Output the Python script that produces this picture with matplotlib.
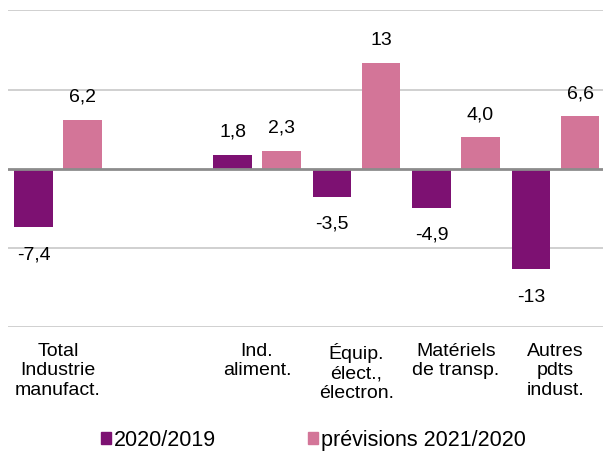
import matplotlib
matplotlib.use("Agg")
import matplotlib.pyplot as plt
from matplotlib.patches import Patch
import numpy as np

plt.rcParams['font.family'] = ['Liberation Sans', 'DejaVu Sans']

# data
categories = ["Total\nIndustrie\nmanufact.", "", "Ind.\naliment.",
              "Équip.\nélect.,\nélectron.", "Matériels\nde transp.",
              "Autres\npdts\nindust."]
v_2020 = [-7.4, np.nan, 1.8, -3.5, -4.9, -12.7]
v_prev = [6.2, np.nan, 2.3, 13.4, 4.0, 6.6]
series_names = ["2020/2019", "prévisions 2021/2020"]

c_purple = "#7D1172"
c_pink = "#D37598"


def fmt(v):
    if abs(v) >= 10:
        s = "%.0f" % v
    else:
        s = "%.1f" % v
    return s.replace(".", ",")


fig = plt.figure(figsize=(6.03, 4.55), dpi=100)
ax = fig.add_axes([8.3 / 603, 1 - 327.3 / 455, 597 / 603, 317 / 455])

x = np.arange(len(categories))
w = 0.386
off = 0.246
ax.bar(x - off, v_2020, w, color=c_purple, zorder=3)
ax.bar(x + off, v_prev, w, color=c_pink, zorder=3)

for xs, vals in ((x - off, v_2020), (x + off, v_prev)):
    for xi, v in zip(xs, vals):
        if np.isnan(v):
            continue
        dy = 16 if v > 0 else -20
        ax.annotate(fmt(v), (xi, v), xytext=(0, dy), textcoords="offset points",
                    ha="center", va="center", fontsize=14, color="black")

ax.set_xlim(-0.5, len(categories) - 0.5)
ax.set_ylim(-20, 20)
ax.set_yticks([-20, -10, 10, 20])
ax.yaxis.grid(True, color="#C8C8C8", linewidth=1.2, zorder=0)
ax.axhline(0, color="#8C8C8C", linewidth=2, zorder=4)
ax.tick_params(axis="y", left=False, labelleft=False)
ax.set_xticks(x)
ax.set_xticklabels(categories, fontsize=14, linespacing=1.22)
ax.tick_params(axis="x", length=0, pad=11)
for sp in ax.spines.values():
    sp.set_visible(False)

handles = [Patch(color=c_purple), Patch(color=c_pink)]
fig.legend(handles, series_names, loc="center", bbox_to_anchor=(0.52, 0.032),
           ncol=2, frameon=False, fontsize=15.5, handlelength=0.45, handleheight=0.45,
           handletextpad=0.15, columnspacing=4.3)

fig.savefig("out.png", dpi=100)
